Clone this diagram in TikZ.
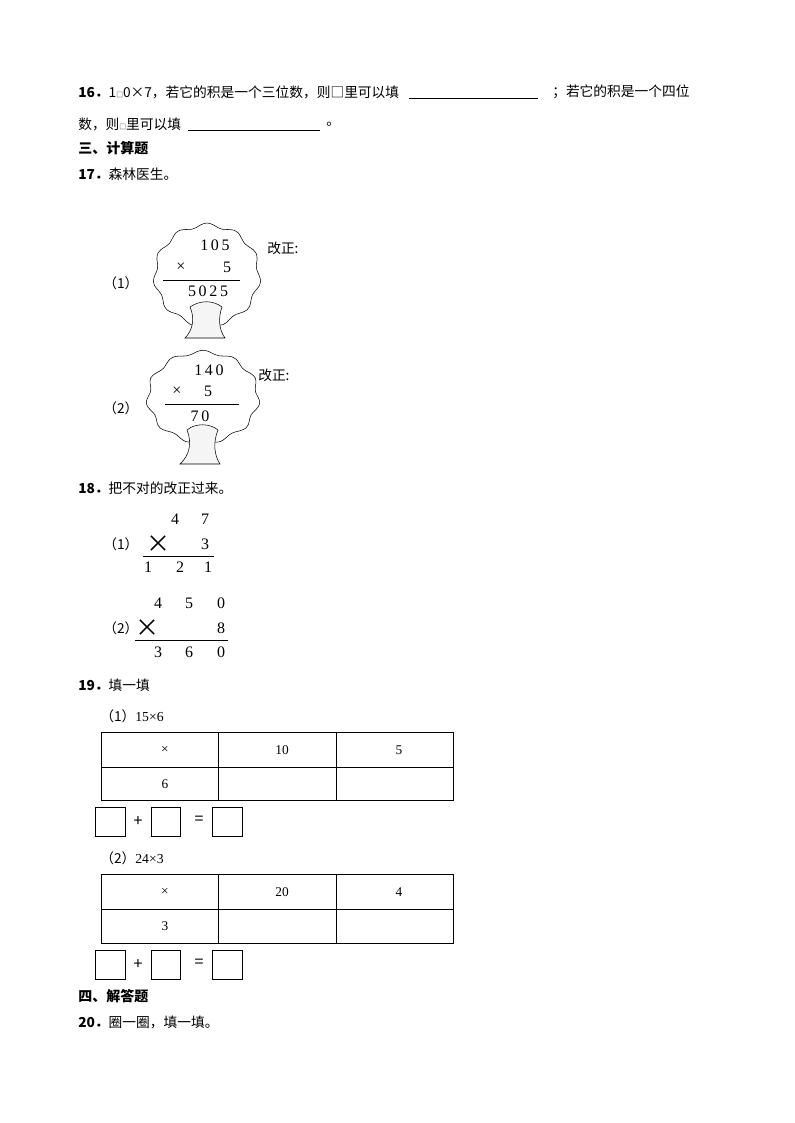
\documentclass[tikz,border=0pt]{standalone}
\usepackage{fontspec}
\setmainfont{Noto Sans CJK SC}
\newfontfamily\numf{Liberation Serif}
\begin{document}
\begin{tikzpicture}[x=0.75pt,y=-0.75pt,
  txt/.style={anchor=west,inner sep=0,font=\fontsize{10.3pt}{12pt}\selectfont},
  bold/.style={anchor=west,inner sep=0,font=\fontsize{10.5pt}{12pt}\selectfont\bfseries},
  dig/.style={inner sep=0,font=\numf\fontsize{12pt}{12pt}\selectfont},
  cell/.style={inner sep=0,font=\numf\fontsize{10pt}{12pt}\selectfont},
  ubox/.style={draw,line width=0.6pt}]
\useasboundingbox (0,0) rectangle (794,1123);
\node[txt] (l1a) at (78,92) {\textbf{16．}1{\tiny□}0×7，若它的积是一个三位数，则□里可以填};
\coordinate (u1a) at (409,98); \coordinate (u1b) at (538,98);
\draw (u1a) -- (u1b);
\node[txt] (l1b) at (552,92) {；若它的积是一个四位};
\node[txt] (l2a) at (78,124) {数，则{\tiny□}里可以填};
\coordinate (u2a) at (188,130); \coordinate (u2b) at (320,130);
\draw (u2a) -- (u2b);
\node[txt] (l2b) at (326,124) {。};
\node[bold] (h3) at (78,148) {三、计算题};
\node[txt] (q17) at (78,174) {\textbf{17．}森林医生。};
% tree 1
\draw[fill=white] plot[smooth cycle,samples=60,domain=0:354] ({207+52*cos(\x)*(1+0.04*sin(11*\x))},{275+50*sin(\x)*(1+0.04*sin(11*\x))});
\draw[fill=white!96!black] (190,307) .. controls (195,318) and (193,330) .. (185,338) -- (225,338) .. controls (219,330) and (218,318) .. (222,307) .. controls (213,300) and (200,300) .. (190,307);
\node[cell] (t1a) at (215,245) {\fontsize{12pt}{12pt}\selectfont 1\,0\,5};
\node[cell] (t1b) at (181,267) {\fontsize{12pt}{12pt}\selectfont ×};
\node[cell] (t1c) at (227,267) {\fontsize{12pt}{12pt}\selectfont 5};
\coordinate (t1l) at (163,280); \coordinate (t1r) at (240,280);
\draw (t1l) -- (t1r);
\node[cell] (t1d) at (208,291) {\fontsize{12pt}{12pt}\selectfont 5\,0\,2\,5};
\node[txt] (p1) at (103,283) {（1）};
\node[txt] (g1) at (267,248) {改正:};
% tree 2
\draw[fill=white] plot[smooth cycle,samples=60,domain=0:354] ({203+55*cos(\x)*(1+0.04*sin(11*\x))},{397+45*sin(\x)*(1+0.04*sin(11*\x))});
\draw[fill=white!96!black] (187,430) .. controls (192,442) and (190,455) .. (180,464) -- (220,464) .. controls (214,455) and (213,442) .. (218,430) .. controls (210,423) and (195,423) .. (187,430);
\node[cell] (t2a) at (209,370) {\fontsize{12pt}{12pt}\selectfont 1\,4\,0};
\node[cell] (t2b) at (177,391) {\fontsize{12pt}{12pt}\selectfont ×};
\node[cell] (t2c) at (208,391) {\fontsize{12pt}{12pt}\selectfont 5};
\coordinate (t2l) at (165,404); \coordinate (t2r) at (239,404);
\draw (t2l) -- (t2r);
\node[cell] (t2d) at (200,416) {\fontsize{12pt}{12pt}\selectfont 7\,0};
\node[txt] (p2) at (103,408) {（2）};
\node[txt] (g2) at (258,375) {改正:};
% 18
\node[txt] (q18) at (78,488) {\textbf{18．}把不对的改正过来。};
\node[txt] (p3) at (103,544) {（1）};
\node[dig] (a1) at (175,519) {4};
\node[dig] (a2) at (205,519) {7};
\node[dig,font=\fontsize{18pt}{18pt}\selectfont] (a3) at (158,544) {×};
\node[dig] (a4) at (205,544) {3};
\coordinate (a5) at (143,556); \coordinate (a6) at (214,556);
\draw (a5) -- (a6);
\node[dig] (a7) at (148,567) {1};
\node[dig] (a8) at (180,567) {2};
\node[dig] (a9) at (208,567) {1};
\node[txt] (p4) at (103,628) {（2）};
\node[dig] (b1) at (158,603) {4};
\node[dig] (b2) at (189,603) {5};
\node[dig] (b3) at (221,603) {0};
\node[dig,font=\fontsize{18pt}{18pt}\selectfont] (b4) at (147,628) {×};
\node[dig] (b5) at (221,628) {8};
\coordinate (b6) at (135,640); \coordinate (b7) at (228,640);
\draw (b6) -- (b7);
\node[dig] (b8) at (158,652) {3};
\node[dig] (b9) at (189,652) {6};
\node[dig] (b10) at (221,652) {0};
% 19
\node[txt] (q19) at (78,685) {\textbf{19．}填一填};
\node[txt] (s1) at (100,716) {（1）{\numf 15×6}};
\draw (101,732) rectangle (453,800);
\draw (101,767) -- (453,767) (218,732) -- (218,800) (336,732) -- (336,800);
\node[cell] (c1) at (165,750) {×};
\node[cell] (c2) at (282,750) {10};
\node[cell] (c3) at (399,750) {5};
\node[cell] (c4) at (165,784) {6};
\node[ubox,inner sep=0,minimum size=22pt] (x1) at (110.5,822) {};
\node[cell,font=\fontsize{12pt}{12pt}\selectfont] (x2) at (138,822) {+};
\node[ubox,inner sep=0,minimum size=22pt] (x3) at (166,822) {};
\node[cell,font=\fontsize{12pt}{12pt}\selectfont] (x4) at (199,820) {=};
\node[ubox,inner sep=0,minimum size=22pt] (x5) at (227.5,822) {};
\node[txt] (s2) at (100,858) {（2）{\numf 24×3}};
\draw (101,874) rectangle (453,943);
\draw (101,909) -- (453,909) (218,874) -- (218,943) (336,874) -- (336,943);
\node[cell] (d1) at (165,892) {×};
\node[cell] (d2) at (282,892) {20};
\node[cell] (d3) at (399,892) {4};
\node[cell] (d4) at (165,926) {3};
\node[ubox,inner sep=0,minimum size=22pt] (y1) at (110.5,965) {};
\node[cell,font=\fontsize{12pt}{12pt}\selectfont] (y2) at (138,965) {+};
\node[ubox,inner sep=0,minimum size=22pt] (y3) at (166,965) {};
\node[cell,font=\fontsize{12pt}{12pt}\selectfont] (y4) at (199,963) {=};
\node[ubox,inner sep=0,minimum size=22pt] (y5) at (227.5,965) {};
\node[bold] (h4) at (78,996) {四、解答题};
\node[txt] (q20) at (78,1022) {\textbf{20．}圈一圈，填一填。};
\end{tikzpicture}
\end{document}
